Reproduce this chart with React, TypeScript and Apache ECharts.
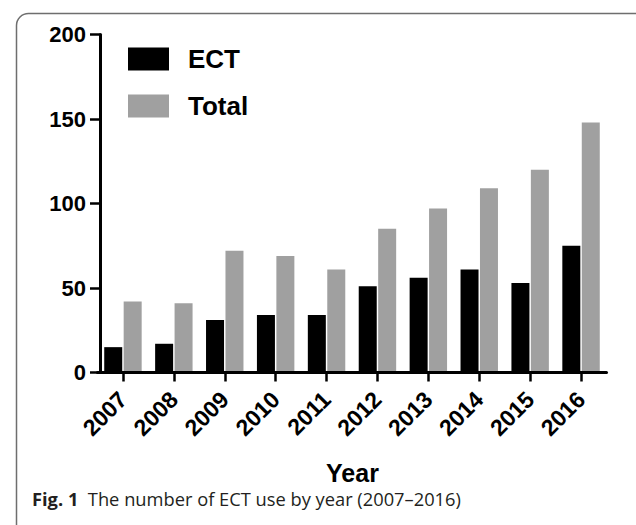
import React, { useEffect, useRef } from "react";
import * as echarts from "echarts";

const years = ["2007", "2008", "2009", "2010", "2011", "2012", "2013", "2014", "2015", "2016"];
const ectValues = [15, 17, 31, 34, 34, 51, 56, 61, 53, 75];
const totalValues = [42, 41, 72, 69, 61, 85, 97, 109, 120, 148];
const seriesNames = ["ECT", "Total"];
const xAxisTitle = "Year";
const captionBold = "Fig. 1";
const captionText = "The number of ECT use by year (2007\u20132016)";

const FONT = "'Liberation Sans', Arial, sans-serif";

export default function App() {
  const ref = useRef<HTMLDivElement>(null);
  useEffect(() => {
    if (!ref.current) return;
    const chart = echarts.init(ref.current, null, { renderer: "svg" });
    chart.setOption({
      animation: false,
      backgroundColor: "#ffffff",
      grid: { left: 97.5, right: 29.5, top: 34.5, bottom: 152.5, containLabel: false },
      legend: {
        orient: "vertical",
        left: 128,
        top: 46,
        padding: 0,
        itemWidth: 41,
        itemHeight: 23,
        itemGap: 21,
        icon: "rect",
        selectedMode: false,
        data: seriesNames,
        textStyle: {
          fontFamily: FONT,
          fontSize: 26,
          fontWeight: "bold",
          color: "#000",
          lineHeight: 23,
          padding: [0, 0, 0, 14],
        },
      },
      xAxis: {
        type: "category",
        data: years,
        z: 10,
        axisLine: { show: true, lineStyle: { color: "#000", width: 3 } },
        axisTick: { show: true, alignWithLabel: true, length: 9, lineStyle: { color: "#000", width: 2.5 } },
        axisLabel: {
          rotate: 45,
          margin: 23,
          interval: 0,
          fontFamily: FONT,
          fontSize: 23,
          fontWeight: "bold",
          color: "#000",
        },
        splitLine: { show: false },
      },
      yAxis: {
        type: "value",
        min: 0,
        max: 200,
        interval: 50,
        offset: -2.5,
        z: 10,
        axisLine: { show: true, lineStyle: { color: "#000", width: 3 } },
        axisTick: { show: true, length: 10, lineStyle: { color: "#000", width: 2.5 } },
        axisLabel: {
          margin: 14,
          fontFamily: FONT,
          fontSize: 22,
          fontWeight: "bold",
          color: "#000",
        },
        splitLine: { show: false },
      },
      series: [
        {
          name: seriesNames[0],
          type: "bar",
          data: ectValues,
          barWidth: 18,
          barGap: "8%",
          itemStyle: { color: "#000000" },
        },
        {
          name: seriesNames[1],
          type: "bar",
          data: totalValues,
          barWidth: 18,
          barGap: "8%",
          itemStyle: { color: "#a0a0a0" },
        },
      ],
      graphic: [
        {
          type: "rect",
          left: 14,
          top: 11,
          shape: { width: 640, height: 530, r: 12 },
          style: { fill: "none", stroke: "#6e6e6e", lineWidth: 1.5 },
          silent: true,
        },
        {
          type: "text",
          x: 352.5,
          y: 473,
          style: {
            text: xAxisTitle,
            fontFamily: FONT,
            fontSize: 25,
            fontWeight: "bold",
            fill: "#000",
            align: "center",
            verticalAlign: "middle",
          },
        },
        {
          type: "text",
          x: 32,
          y: 498,
          style: {
            text: "{b|" + captionBold + "}  " + captionText,
            fontFamily: "'Open Sans', sans-serif",
            fontSize: 18.3,
            fill: "#231f20",
            align: "left",
            verticalAlign: "middle",
            rich: {
              b: { fontFamily: "'Open Sans', sans-serif", fontSize: 18.3, fontWeight: "bold", fill: "#231f20" },
            },
          },
        },
      ],
    });
    return () => chart.dispose();
  }, []);
  return (
    <div
      ref={ref}
      style={{ position: "fixed", left: 0, top: 0, width: 636, height: 525 }}
    />
  );
}
